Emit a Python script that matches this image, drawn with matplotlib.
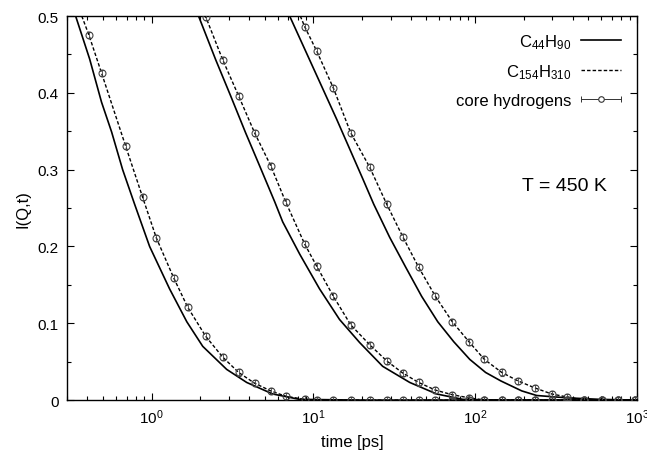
import numpy as np
import matplotlib
matplotlib.use("Agg")
import matplotlib.pyplot as plt
from matplotlib.lines import Line2D
from matplotlib.legend_handler import HandlerBase
from matplotlib.ticker import MultipleLocator, FuncFormatter, LogLocator, NullFormatter

plt.rcParams["font.family"] = "Liberation Sans"
plt.rcParams["mathtext.fontset"] = "custom"
plt.rcParams["mathtext.rm"] = "Liberation Sans"
plt.rcParams["mathtext.default"] = "regular"

# time grid of the core hydrogen data [ps]
t_grid = [0.41, 0.49, 0.69, 0.88, 1.07, 1.37, 1.67, 2.16, 2.75, 3.45, 4.33, 5.45,
          6.74, 8.84, 10.5, 13.3, 17.0, 22.3, 28.4, 35.8, 44.7, 56.8, 72.2, 91.5,
          114, 146, 184, 233, 297, 372, 472, 605, 760, 972]
nan = np.nan
core1 = [0.475, 0.426, 0.331, 0.264, 0.211, 0.159, 0.121, 0.083, 0.056, 0.036, 0.022,
         0.012, 0.005, 0.001] + [0.0] * 20
core2 = [nan] * 7 + [0.499, 0.443, 0.396, 0.348, 0.305, 0.258, 0.203, 0.174, 0.135,
                     0.098, 0.072, 0.051, 0.035, 0.023, 0.013, 0.007, 0.003] + [0.0] * 10
core3 = [nan] * 13 + [0.486, 0.454, 0.406, 0.348, 0.303, 0.255, 0.212, 0.173, 0.135,
                      0.102, 0.076, 0.053, 0.036, 0.025, 0.016, 0.008, 0.004] + [0.0] * 4
core_err = 0.004

# where the C154H310 (dashed) curves enter at I = 0.5
dash_t0 = [0.37, 2.10, 8.3]

# C44H90 (solid)
c44_t1 = [0.339, 0.414, 0.49, 0.566, 0.662, 0.785, 0.972, 1.29, 1.65, 2.07, 2.91, 3.87, 5.6, 8.2, 20, 1000]
c44_y1 = [0.5, 0.444, 0.388, 0.349, 0.3, 0.255, 0.2, 0.145, 0.102, 0.07, 0.04, 0.023, 0.008, 0.001, 0, 0]
c44_t2 = [1.95, 2.49, 3.08, 3.81, 4.65, 5.77, 6.46, 8.23, 10.9, 14.5, 19.3, 26.8, 39.4, 57.8, 83.8, 150, 1000]
c44_y2 = [0.5, 0.443, 0.396, 0.348, 0.305, 0.258, 0.232, 0.19, 0.145, 0.105, 0.075, 0.044, 0.023, 0.008, 0.001, 0, 0]
c44_t3 = [7.13, 13.9, 20.2, 23.6, 29.6, 37.2, 46.7, 58.7, 73.7, 92.6, 116, 144, 194, 240, 368, 590, 1000]
c44_y3 = [0.5, 0.366, 0.288, 0.255, 0.212, 0.173, 0.135, 0.102, 0.076, 0.053, 0.036, 0.025, 0.012, 0.006, 0.003, 0.001, 0]


class ErrKey(HandlerBase):
    # gnuplot style key: horizontal bar with end caps and a point
    def create_artists(self, legend, orig_handle, xdescent, ydescent, width, height, fontsize, trans):
        y = (height - ydescent) / 2
        x0, x1 = -xdescent, -xdescent + width
        bar = Line2D([x0, x1], [y, y], color="#333333", lw=0.7)
        caps = Line2D([x0, x1], [y, y], ls="none", marker="|", ms=5, mew=0.7, color="#333333")
        dot = Line2D([(x0 + x1) / 2], [y], ls="none", marker="o", ms=4,
                     mfc="white", mec="#333333", mew=0.8)
        for a in (bar, caps, dot):
            a.set_transform(trans)
        return [bar, caps, dot]


fig, ax = plt.subplots(figsize=(6.47, 4.6), dpi=100)
fig.subplots_adjust(left=0.1036, right=0.9845, top=0.963, bottom=0.128)

dash = (0, (2.5, 1.5))
for ts, ys in [(c44_t1, c44_y1), (c44_t2, c44_y2), (c44_t3, c44_y3)]:
    ax.plot(ts, ys, "-", color="black", lw=1.2)

for t0, core in zip(dash_t0, [core1, core2, core3]):
    c = np.array(core)
    ok = ~np.isnan(c)
    tt = np.concatenate([[t0], np.array(t_grid)[ok]])
    yy = np.concatenate([[0.5], c[ok]])
    ax.plot(tt, yy, color="black", lw=1.0, ls=dash)
    ax.errorbar(np.array(t_grid)[ok], c[ok], yerr=core_err, fmt="o", ms=5,
                mfc="none", mec="#444444", mew=0.8, ecolor="#444444",
                elinewidth=0.6, capsize=1.2, zorder=3)

ax.set_xscale("log")
ax.set_xlim(0.3, 1000)
ax.set_ylim(0, 0.5)
ax.yaxis.set_major_locator(MultipleLocator(0.1))
ax.yaxis.set_minor_locator(MultipleLocator(0.05))
ax.yaxis.set_major_formatter(FuncFormatter(lambda v, _: "%g" % round(v, 3)))
ax.xaxis.set_minor_locator(LogLocator(base=10, subs=range(2, 10)))
ax.xaxis.set_minor_formatter(NullFormatter())
ax.tick_params(which="both", direction="in", top=True, right=True, width=0.8, labelsize=11)
ax.tick_params(which="major", length=5)
ax.tick_params(which="minor", length=3)
ax.tick_params(axis="y", pad=6)
ax.tick_params(axis="x", pad=5)
for s in ax.spines.values():
    s.set_linewidth(1.0)

ax.set_xlabel("time [ps]", fontsize=12, labelpad=6)
ax.set_ylabel("I(Q,t)", fontsize=12, labelpad=5)

handles = [Line2D([], [], color="black", lw=1.2),
           Line2D([], [], color="black", lw=1.0, ls=dash),
           Line2D([], [], color="black")]
labels = ["C$_{44}$H$_{90}$", "C$_{154}$H$_{310}$", "core hydrogens"]
ax.legend(handles, labels, handler_map={handles[2]: ErrKey()}, loc="upper right",
          frameon=False, markerfirst=False, fontsize=12, handlelength=2.4,
          labelspacing=0.7, borderaxespad=0.55, handletextpad=0.6)

ax.text(0.872, 0.56, "T = 450 K", transform=ax.transAxes, ha="center", va="center", fontsize=14)

fig.savefig("out.png", dpi=100)
